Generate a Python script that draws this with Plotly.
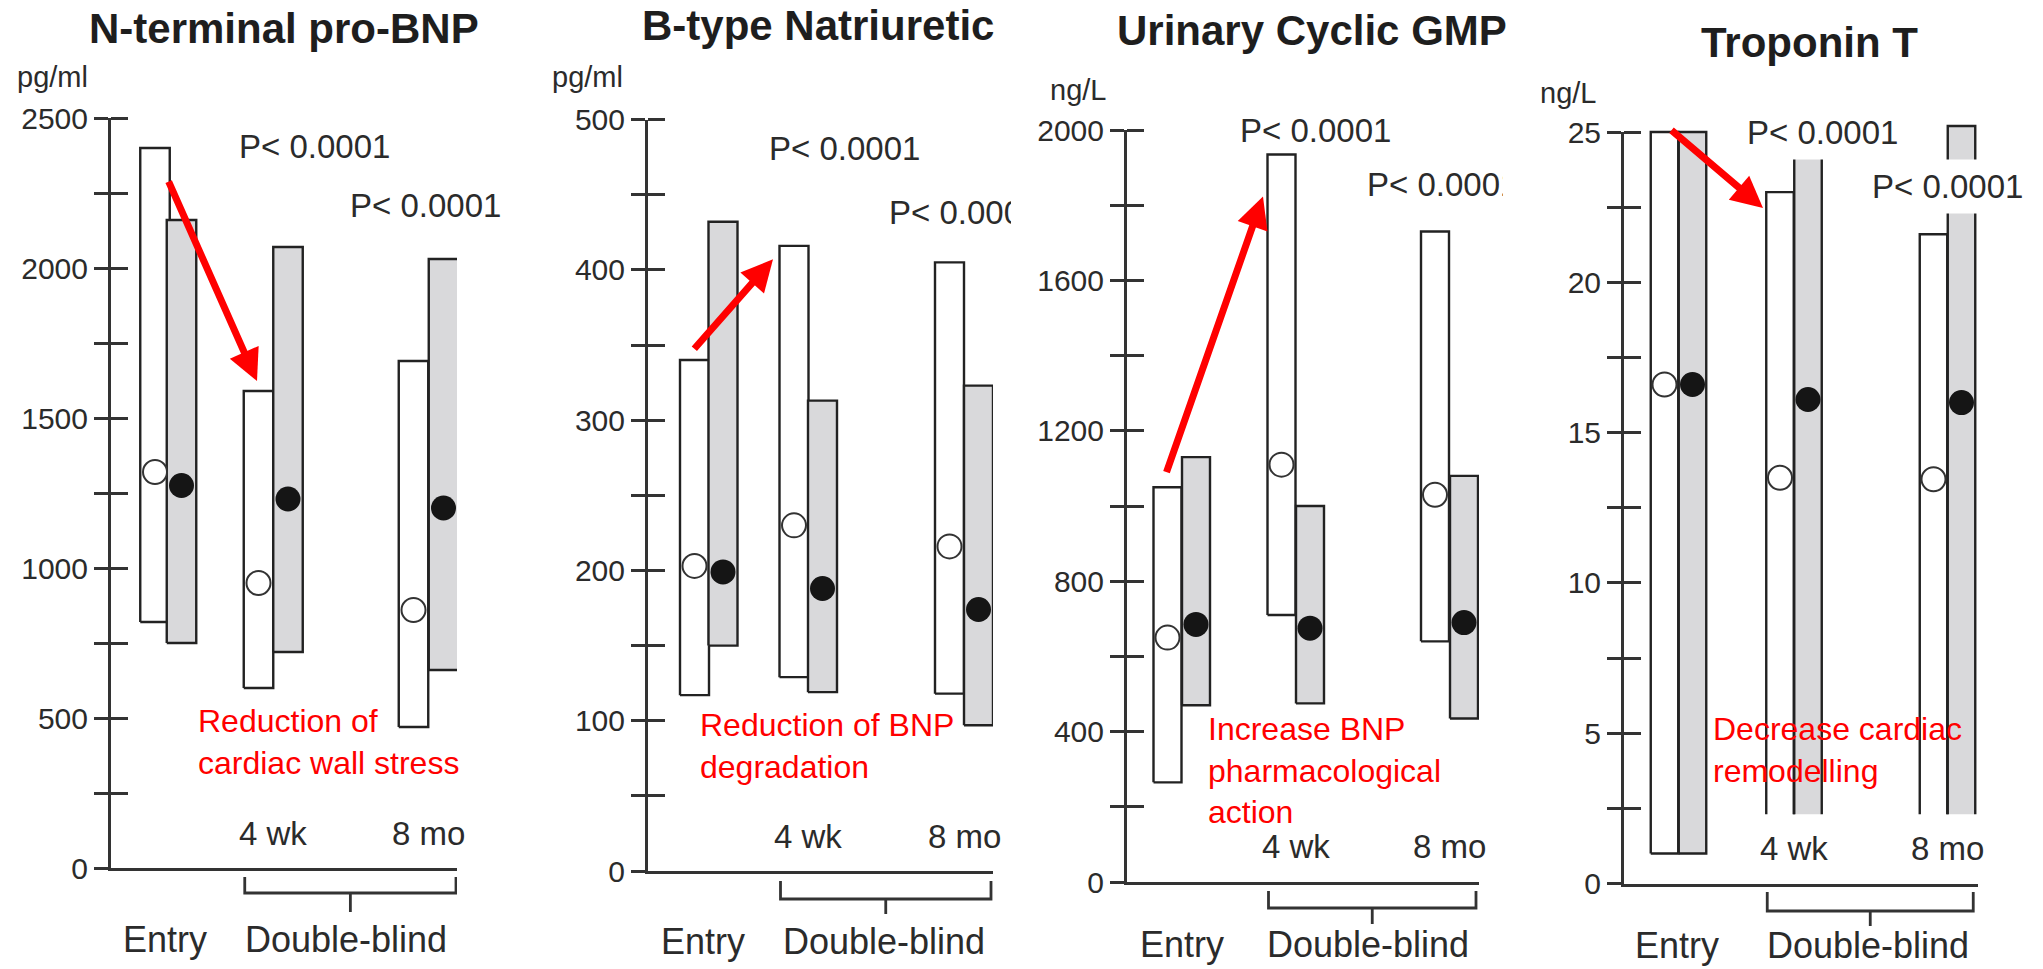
import plotly.graph_objects as go

W, H = 2043, 969

groups = ["Entry", "4 wk", "8 mo"]

# N-terminal pro-BNP, pg/ml  (open = white bars, filled = grey bars)
ntprobnp_open_low = [820, 600, 470]
ntprobnp_open_high = [2400, 1590, 1690]
ntprobnp_open_median = [1320, 950, 860]
ntprobnp_fill_low = [750, 720, 660]
ntprobnp_fill_high = [2160, 2070, 2030]
ntprobnp_fill_median = [1275, 1230, 1200]
ntprobnp_ticks = [0, 250, 500, 750, 1000, 1250, 1500, 1750, 2000, 2250, 2500]
ntprobnp_tick_labels = ["0", "", "500", "", "1000", "", "1500", "", "2000", "", "2500"]

# B-type natriuretic peptide, pg/ml
bnp_open_low = [117, 129, 118]
bnp_open_high = [340, 416, 405]
bnp_open_median = [203, 230, 216]
bnp_fill_low = [150, 119, 97]
bnp_fill_high = [432, 313, 323]
bnp_fill_median = [199, 188, 174]
bnp_ticks = [0, 50, 100, 150, 200, 250, 300, 350, 400, 450, 500]
bnp_tick_labels = ["0", "", "100", "", "200", "", "300", "", "400", "", "500"]

# Urinary cyclic GMP, ng/L
cgmp_open_low = [265, 710, 640]
cgmp_open_high = [1050, 1935, 1730]
cgmp_open_median = [650, 1110, 1030]
cgmp_fill_low = [470, 475, 435]
cgmp_fill_high = [1130, 1000, 1080]
cgmp_fill_median = [685, 675, 690]
cgmp_ticks = [0, 200, 400, 600, 800, 1000, 1200, 1400, 1600, 1800, 2000]
cgmp_tick_labels = ["0", "", "400", "", "800", "", "1200", "", "1600", "", "2000"]

# Troponin T, ng/L
tnt_open_low = [1.0, 2.3, 2.3]
tnt_open_high = [25.0, 23.0, 21.6]
tnt_open_median = [16.6, 13.5, 13.45]
tnt_fill_low = [1.0, 2.3, 2.3]
tnt_fill_high = [25.0, 25.2, 25.2]
tnt_fill_median = [16.6, 16.1, 16.0]
tnt_ticks = [0, 2.5, 5, 7.5, 10, 12.5, 15, 17.5, 20, 22.5, 25]
tnt_tick_labels = ["0", "", "5", "", "10", "", "15", "", "20", "", "25"]

p_value_text = "P< 0.0001"

FONT = "Liberation Sans, Arial, sans-serif"
INK = "#2b2b2b"
GREY_FILL = "#d9d9db"
RED = "#ff0000"


def fx(px):
    return px / W


def fy(py):
    return 1 - py / H


# Layout of each panel in screen pixels; x positions are measured from the y axis line.
PANELS = [
    dict(title="N-terminal pro-BNP", title_pos=(284, 28, "center"), unit="pg/ml", unit_pos=(15, 77),
         axis_px=111, right_px=457, zero_py=868, top_py=118, ymax=2500,
         ticks=ntprobnp_ticks, tick_labels=ntprobnp_tick_labels,
         open=(ntprobnp_open_low, ntprobnp_open_high, ntprobnp_open_median),
         fill=(ntprobnp_fill_low, ntprobnp_fill_high, ntprobnp_fill_median),
         open_x=[44, 147.5, 302.5], fill_x=[70.5, 177, 332.5], bar_w=29.5,
         open_bottom=[False, False, False],
         arrow=((57, 2293), (146, 1623)),
         p1=(237, 147), p2=(348, 206), p2_width=None, p_bg=None,
         note="Reduction of<br>cardiac wall stress", note_pos=(196, 742),
         time_py=833, group_py=939, entry_px=165, db_px=346,
         bracket_py=(877, 893, 912)),
    dict(title="B-type Natriuretic", title_pos=(640, 25, "left"), unit="pg/ml", unit_pos=(550, 77),
         axis_px=648, right_px=993, zero_py=871, top_py=119.6, ymax=500,
         ticks=bnp_ticks, tick_labels=bnp_tick_labels,
         open=(bnp_open_low, bnp_open_high, bnp_open_median),
         fill=(bnp_fill_low, bnp_fill_high, bnp_fill_median),
         open_x=[46.5, 146, 301.5], fill_x=[75, 174.5, 330.5], bar_w=29,
         open_bottom=[False, False, False],
         arrow=((45, 346.5), (125, 407)),
         p1=(767, 149), p2=(887, 213), p2_width=122, p_bg=None,
         note="Reduction of BNP<br>degradation", note_pos=(698, 746),
         time_py=836, group_py=941, entry_px=703, db_px=884,
         bracket_py=(881, 899, 914)),
    dict(title="Urinary Cyclic GMP", title_pos=(1312, 30, "center"), unit="ng/L", unit_pos=(1048, 90),
         axis_px=1127, right_px=1479, zero_py=882, top_py=130, ymax=2000,
         ticks=cgmp_ticks, tick_labels=cgmp_tick_labels,
         open=(cgmp_open_low, cgmp_open_high, cgmp_open_median),
         fill=(cgmp_fill_low, cgmp_fill_high, cgmp_fill_median),
         open_x=[40.5, 154.5, 308], fill_x=[69, 183, 337], bar_w=28,
         open_bottom=[False, False, False],
         arrow=((39, 1086), (136, 1823)),
         p1=(1238, 130), p2=(1365, 184), p2_width=136, p_bg=None,
         note="Increase BNP<br>pharmacological<br>action", note_pos=(1206, 770),
         time_py=846, group_py=944, entry_px=1182, db_px=1368,
         bracket_py=(891, 908, 924)),
    dict(title="Troponin T", title_pos=(1809, 43, "center"), unit="ng/L", unit_pos=(1538, 93),
         axis_px=1624, right_px=1978, zero_py=883.5, top_py=132, ymax=25,
         ticks=tnt_ticks, tick_labels=tnt_tick_labels,
         open=(tnt_open_low, tnt_open_high, tnt_open_median),
         fill=(tnt_fill_low, tnt_fill_high, tnt_fill_median),
         open_x=[40.5, 156, 309.5], fill_x=[68.5, 184, 337.5], bar_w=27.5,
         open_bottom=[False, True, True],
         arrow=((46, 25.1), (139, 22.47)),
         p1=(1738, 133), p2=(1863, 186), p2_width=None, p_bg="white",
         note="Decrease cardiac<br>remodelling", note_pos=(1711, 750),
         time_py=848, group_py=945, entry_px=1677, db_px=1868,
         bracket_py=(892, 911, 926)),
]

fig = go.Figure()
annotations = []
shapes = []
layout_axes = {}


def bar_paths(centers, width, lows, highs, open_bottom):
    fx_, fy_, ox, oy = [], [], [], []
    for c, lo, hi, ob in zip(centers, lows, highs, open_bottom):
        x0, x1 = c - width / 2, c + width / 2
        fx_ += [x0, x0, x1, x1, None]
        fy_ += [lo, hi, hi, lo, None]
        if ob:
            ox += [x0, x0, x1, x1, None]
            oy += [lo, hi, hi, lo, None]
        else:
            ox += [x0, x0, x1, x1, x0, None]
            oy += [lo, hi, hi, lo, lo, None]
    return fx_, fy_, ox, oy


for i, p in enumerate(PANELS, start=1):
    xname = "xaxis" if i == 1 else f"xaxis{i}"
    yname = "yaxis" if i == 1 else f"yaxis{i}"
    ydname = f"yaxis{i + 4}"
    xref, yref, ydref = f"x{i}", f"y{i}", f"y{i + 4}"

    scale = (p["zero_py"] - p["top_py"]) / p["ymax"]
    ext_top_py = p["top_py"] - 45
    ymax_ext = (p["zero_py"] - ext_top_py) / scale
    x_span = p["right_px"] - p["axis_px"]

    layout_axes[xname] = dict(domain=[fx(p["axis_px"]), fx(p["right_px"])], range=[0, x_span],
                              anchor=yref, showline=True, linecolor="#333", linewidth=3,
                              ticks="", showticklabels=False, showgrid=False, zeroline=False,
                              fixedrange=True, automargin=False)
    layout_axes[yname] = dict(domain=[fy(p["zero_py"]), fy(p["top_py"])], range=[0, p["ymax"]],
                              anchor=xref, showline=True, linecolor="#333", linewidth=3,
                              ticks="outside", ticklen=14, tickwidth=2.5, tickcolor="#333",
                              tickmode="array", tickvals=p["ticks"], ticktext=p["tick_labels"],
                              tickfont=dict(family=FONT, size=30, color=INK),
                              showgrid=False, zeroline=False, fixedrange=True, automargin=False)
    layout_axes[ydname] = dict(domain=[fy(p["zero_py"]), fy(ext_top_py)], range=[0, ymax_ext],
                               anchor=xref, showline=False, ticks="inside", ticklen=17,
                               tickwidth=2.5, tickcolor="#333", tickmode="array",
                               tickvals=p["ticks"], showticklabels=False,
                               showgrid=False, zeroline=False, fixedrange=True, automargin=False)

    # empty trace so the labelled axis gets its own subplot
    fig.add_trace(go.Scatter(x=[None], y=[None], xaxis=xref, yaxis=yref,
                             showlegend=False, hoverinfo="skip"))

    o_lo, o_hi, o_med = p["open"]
    f_lo, f_hi, f_med = p["fill"]
    for centers, lows, highs, color in ((p["open_x"], o_lo, o_hi, "white"),
                                        (p["fill_x"], f_lo, f_hi, GREY_FILL)):
        px_, py_, ox, oy = bar_paths(centers, p["bar_w"], lows, highs, p["open_bottom"])
        fig.add_trace(go.Scatter(x=px_, y=py_, mode="lines", fill="toself", fillcolor=color,
                                 line=dict(width=0), xaxis=xref, yaxis=ydref,
                                 showlegend=False, hoverinfo="skip"))
        fig.add_trace(go.Scatter(x=ox, y=oy, mode="lines", line=dict(color="#222", width=2.4),
                                 xaxis=xref, yaxis=ydref, showlegend=False, hoverinfo="skip"))

    fig.add_trace(go.Scatter(x=p["open_x"], y=o_med, mode="markers",
                             marker=dict(symbol="circle", size=24, color="white",
                                         line=dict(color="#333", width=2)),
                             xaxis=xref, yaxis=ydref, showlegend=False,
                             text=groups, hovertemplate="%{text}: %{y}<extra></extra>"))
    fig.add_trace(go.Scatter(x=p["fill_x"], y=f_med, mode="markers",
                             marker=dict(symbol="circle", size=25, color="#151515",
                                         line=dict(width=0)),
                             xaxis=xref, yaxis=ydref, showlegend=False,
                             text=groups, hovertemplate="%{text}: %{y}<extra></extra>"))

    # red trend arrow
    (sx, sy), (ex, ey) = p["arrow"]
    annotations.append(dict(x=ex, y=ey, ax=sx, ay=sy, xref=xref, yref=ydref,
                            axref=xref, ayref=ydref, text="", showarrow=True,
                            arrowhead=2, arrowsize=0.9, arrowwidth=7, arrowcolor=RED,
                            standoff=0, startstandoff=0))

    # title and unit
    tx, ty, tanchor = p["title_pos"]
    annotations.append(dict(x=fx(tx), y=fy(ty), xref="paper", yref="paper", xanchor=tanchor,
                            yanchor="middle", text=f"<b>{p['title']}</b>", showarrow=False,
                            font=dict(family=FONT, size=42, color="#1e1e1e")))
    ux, uy = p["unit_pos"]
    annotations.append(dict(x=fx(ux), y=fy(uy), xref="paper", yref="paper", xanchor="left",
                            yanchor="middle", text=p["unit"], showarrow=False,
                            font=dict(family=FONT, size=29, color=INK)))

    # p values
    for key, wkey in (("p1", None), ("p2", "p2_width")):
        px0, py0 = p[key]
        ann = dict(x=fx(px0), y=fy(py0), xref="paper", yref="paper", xanchor="left",
                   yanchor="middle", text=p_value_text, showarrow=False, align="left",
                   font=dict(family=FONT, size=33, color=INK))
        if wkey and p[wkey]:
            ann["width"] = p[wkey]
        if p["p_bg"]:
            ann["bgcolor"] = p["p_bg"]
            ann["borderpad"] = 8
        annotations.append(ann)

    # red explanatory note
    nx, ny = p["note_pos"]
    annotations.append(dict(x=fx(nx), y=fy(ny), xref="paper", yref="paper", xanchor="left",
                            yanchor="middle", text=p["note"], showarrow=False, align="left",
                            font=dict(family=FONT, size=32, color=RED)))

    # time point labels
    for k in (1, 2):
        cx = (p["open_x"][k] + p["fill_x"][k]) / 2
        annotations.append(dict(x=cx, y=fy(p["time_py"]), xref=xref, yref="paper",
                                xanchor="center", yanchor="middle", text=groups[k],
                                showarrow=False, font=dict(family=FONT, size=33, color=INK)))

    # phase labels
    annotations.append(dict(x=fx(p["entry_px"]), y=fy(p["group_py"]), xref="paper", yref="paper",
                            xanchor="center", yanchor="middle", text=groups[0], showarrow=False,
                            font=dict(family=FONT, size=36, color=INK)))
    annotations.append(dict(x=fx(p["db_px"]), y=fy(p["group_py"]), xref="paper", yref="paper",
                            xanchor="center", yanchor="middle", text="Double-blind",
                            showarrow=False, font=dict(family=FONT, size=36, color=INK)))

    # bracket under the double-blind time points
    xl = p["open_x"][1] - p["bar_w"] / 2 + 1
    xr = min(p["fill_x"][2] + p["bar_w"] / 2 - 2, x_span - 1)
    xc = (xl + xr) / 2
    ya, yb, yc = (fy(v) for v in p["bracket_py"])
    shapes.append(dict(type="path", xref=xref, yref="paper",
                       path=f"M {xl},{ya} L {xl},{yb} L {xr},{yb} L {xr},{ya} "
                            f"M {xc},{yb} L {xc},{yc}",
                       line=dict(color="#333", width=2.8)))

fig.update_layout(
    width=W, height=H, autosize=False,
    margin=dict(l=0, r=0, t=0, b=0, pad=0),
    paper_bgcolor="white", plot_bgcolor="rgba(0,0,0,0)",
    showlegend=False,
    annotations=annotations, shapes=shapes,
    font=dict(family=FONT, color=INK),
    **layout_axes,
)

fig.write_html("out.html")
